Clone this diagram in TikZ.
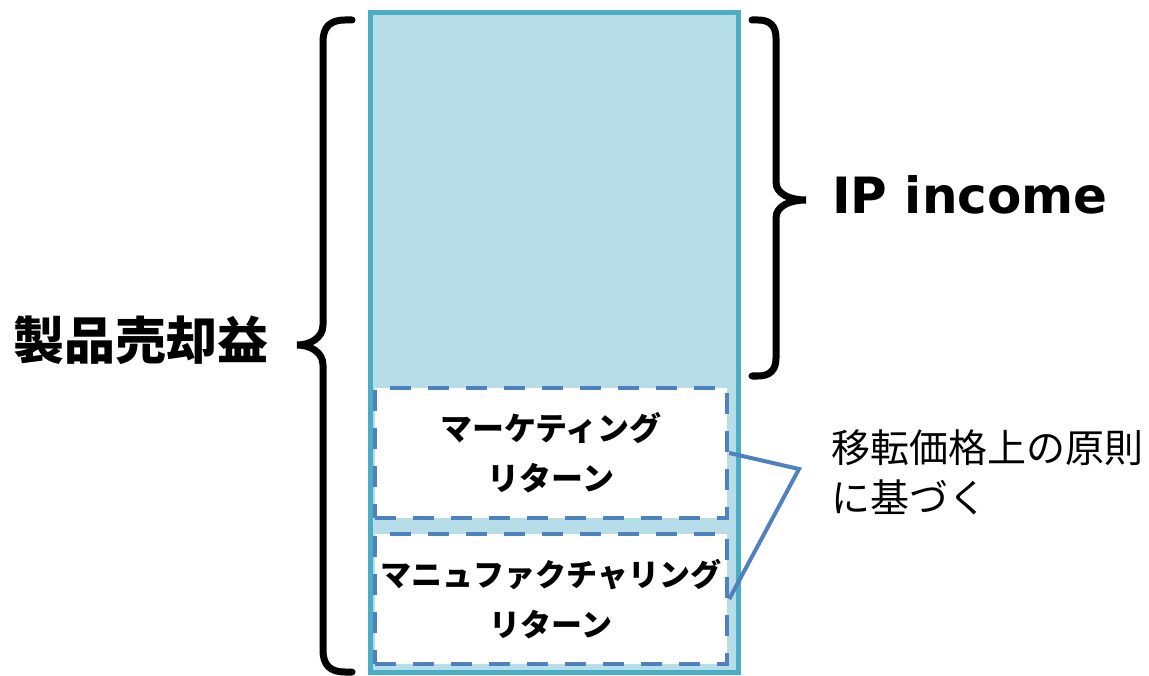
\documentclass[tikz,border=0pt]{standalone}
\usepackage{fontspec}
\newfontfamily\jp{Noto Sans CJK JP}
\newfontfamily\lat{DejaVu Sans}
\definecolor{boxfill}{HTML}{B7DDE8}
\definecolor{boxline}{HTML}{4BACC6}
\definecolor{dashline}{HTML}{4F81BD}
\begin{document}
\begin{tikzpicture}[x=1pt,y=-1pt,
  outerbox/.style={draw=boxline,fill=boxfill,line width=5pt,minimum width=368pt,minimum height=659pt,inner sep=0pt},
  retbox/.style={draw=dashline,fill=white,dash pattern=on 21pt off 17pt,line width=4.5pt,minimum width=352pt,minimum height=130pt,inner sep=0pt,align=center,font=\jp\bfseries\fontsize{31}{50}\selectfont},
  bracepath/.style={draw=black,line width=7pt,line cap=round},
  conn/.style={draw=dashline,line width=4pt}]
\useasboundingbox (0,0) rectangle (1149,676);
\node[outerbox] (outer) at (554,342.5) {};
\node[retbox,font=\jp\bfseries\fontsize{32}{50}\selectfont] (mkt) at (551,453) {マーケティング\\リターン};
\node[retbox] (mfg) at (551,599) {マニュファクチャリング\\リターン};
\draw[bracepath] (352,20) -- (345,20) .. controls (330,20) and (323,27) .. (323,42) -- (323,325) .. controls (323,338) and (310,345) .. (297,345) .. controls (310,345) and (323,352) .. (323,365) -- (323,650) .. controls (323,665) and (330,672) .. (345,672) -- (352,672);
\draw[bracepath] (752,20) -- (758,20) .. controls (770,20) and (776,26) .. (776,38) -- (776,182) .. controls (776,194) and (790,200) .. (806,200) .. controls (790,200) and (776,206) .. (776,218) -- (776,358) .. controls (776,370) and (770,376) .. (758,376) -- (752,376);
\node[font=\jp\bfseries\fontsize{51}{60}\selectfont] (total) at (141,340) {製品売却益};
\node[font=\lat\bfseries\fontsize{50}{60}\selectfont] (ip) at (970,195) {IP income};
\node[anchor=west,align=left,inner sep=0pt,font=\jp\fontsize{39}{50}\selectfont] (tp) at (831,472) {移転価格上の原則\\に基づく};
\coordinate (apex) at (799,469);
\draw[conn] (mkt.east) -- (apex) -- (mfg.east);
\end{tikzpicture}
\end{document}
